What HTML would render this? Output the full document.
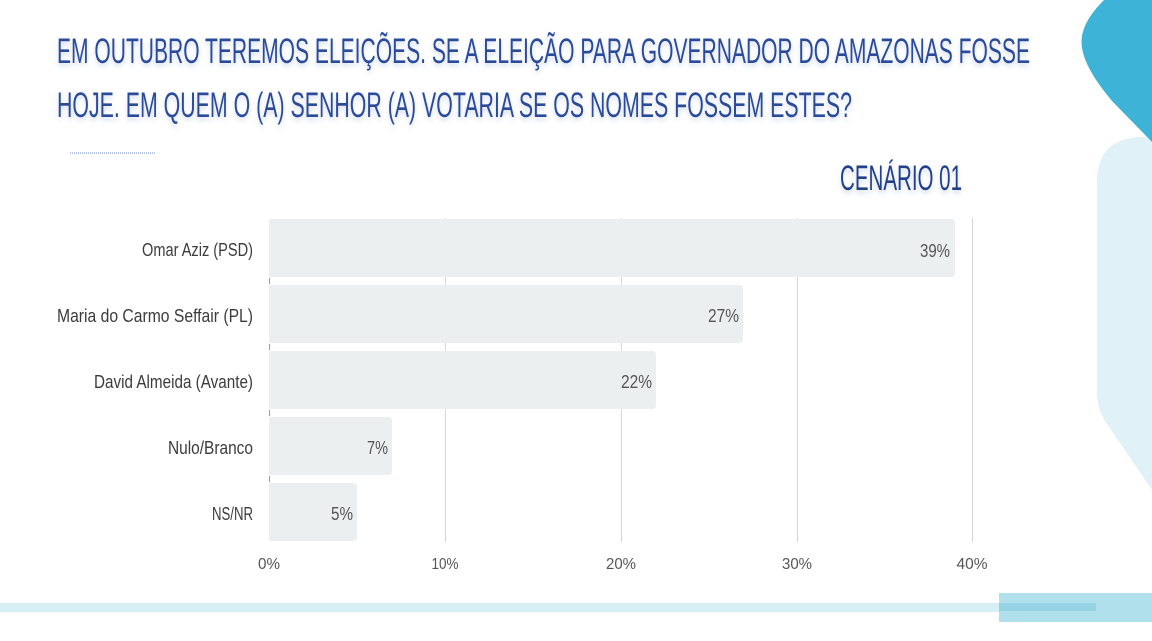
<!DOCTYPE html>
<html>
<head>
<meta charset="utf-8">
<style>
  html, body { margin:0; padding:0; background:#ffffff; }
  body { width:1152px; height:641px; overflow:hidden; position:relative; }
  svg { display:block; }
</style>
</head>
<body>
<svg width="1152" height="641" viewBox="0 0 1152 641" xmlns="http://www.w3.org/2000/svg">
  <defs>
    <filter id="ts" x="-5%" y="-30%" width="110%" height="170%">
      <feGaussianBlur in="SourceAlpha" stdDeviation="2.5"/>
      <feOffset dx="0" dy="3" result="b"/>
      <feFlood flood-color="#5a78b8" flood-opacity="0.28"/>
      <feComposite in2="b" operator="in"/>
      <feMerge><feMergeNode/><feMergeNode in="SourceGraphic"/></feMerge>
    </filter>
  </defs>
  <rect x="0" y="0" width="1152" height="641" fill="#ffffff"/>

  <!-- decorative shapes right -->
  <path d="M1152,137 L1140,137 Q1097,139 1097,182 L1097,392 Q1097,410 1107,424 L1152,490 Z" fill="#e1f1f8"/>
  <path d="M1104,0 C1090,14 1079,30 1082,48 C1085,66 1098,84 1112,101 L1152,142 L1152,0 Z" fill="#3db4d7"/>

  <!-- bottom bands -->
  <rect x="0" y="603" width="1152" height="9" fill="#d6eef6"/>
  <rect x="999" y="593" width="153" height="29" fill="#afe0ec"/>
  <rect x="999" y="603" width="97" height="8" fill="#95d3e4"/>

  <!-- title -->
  <g font-family="Liberation Sans, sans-serif" font-size="35" fill="#2c4b9c" filter="url(#ts)">
    <text x="57" y="63" textLength="973" lengthAdjust="spacingAndGlyphs">EM OUTUBRO TEREMOS ELEIÇÕES. SE A ELEIÇÃO PARA GOVERNADOR DO AMAZONAS FOSSE</text>
    <text x="57" y="117" textLength="795" lengthAdjust="spacingAndGlyphs">HOJE. EM QUEM O (A) SENHOR (A) VOTARIA SE OS NOMES FOSSEM ESTES?</text>
    <text x="840" y="190" textLength="122" lengthAdjust="spacingAndGlyphs" fill="#223f8c">CENÁRIO 01</text>
  </g>
  <line x1="70" y1="153" x2="155" y2="153" stroke="#6f8cc4" stroke-width="1" stroke-dasharray="1 1"/>

  <!-- gridlines -->
  <g stroke="#d6d6d6" stroke-width="1">
    <line x1="445.5" y1="218" x2="445.5" y2="542"/>
    <line x1="621.5" y1="218" x2="621.5" y2="542"/>
    <line x1="797.5" y1="218" x2="797.5" y2="542"/>
    <line x1="972.5" y1="218" x2="972.5" y2="542"/>
  </g>

  <!-- bars -->
  <g fill="#ebeff0">
    <path d="M269,219 H951 Q955,219 955,223 V273 Q955,277 951,277 H269 Z"/>
    <path d="M269,285 H739 Q743,285 743,289 V339 Q743,343 739,343 H269 Z"/>
    <path d="M269,351 H652 Q656,351 656,355 V405 Q656,409 652,409 H269 Z"/>
    <path d="M269,417 H388 Q392,417 392,421 V471 Q392,475 388,475 H269 Z"/>
    <path d="M269,483 H353 Q357,483 357,487 V537 Q357,541 353,541 H269 Z"/>
  </g>

  <!-- small ticks at 0 axis -->
  <g stroke="#9a9a9a" stroke-width="1">
    <line x1="269.5" y1="278" x2="269.5" y2="284"/>
    <line x1="269.5" y1="344" x2="269.5" y2="350"/>
    <line x1="269.5" y1="410" x2="269.5" y2="416"/>
    <line x1="269.5" y1="476" x2="269.5" y2="482"/>
  </g>

  <!-- category labels -->
  <g font-family="Liberation Sans, sans-serif" font-size="18" fill="#3c3c3c" text-anchor="end">
    <text x="253" y="256" textLength="111" lengthAdjust="spacingAndGlyphs">Omar Aziz (PSD)</text>
    <text x="253" y="322" textLength="196" lengthAdjust="spacingAndGlyphs">Maria do Carmo Seffair (PL)</text>
    <text x="253" y="388" textLength="159" lengthAdjust="spacingAndGlyphs">David Almeida (Avante)</text>
    <text x="253" y="454" textLength="85" lengthAdjust="spacingAndGlyphs">Nulo/Branco</text>
    <text x="253" y="520" textLength="41" lengthAdjust="spacingAndGlyphs">NS/NR</text>
  </g>

  <!-- value labels -->
  <g font-family="Liberation Sans, sans-serif" font-size="18" fill="#555555" text-anchor="end">
    <text x="950" y="257" textLength="30" lengthAdjust="spacingAndGlyphs">39%</text>
    <text x="739" y="322" textLength="31" lengthAdjust="spacingAndGlyphs">27%</text>
    <text x="652" y="388" textLength="31" lengthAdjust="spacingAndGlyphs">22%</text>
    <text x="388" y="454" textLength="21" lengthAdjust="spacingAndGlyphs">7%</text>
    <text x="353" y="520" textLength="22" lengthAdjust="spacingAndGlyphs">5%</text>
  </g>

  <!-- x tick labels -->
  <g font-family="Liberation Sans, sans-serif" font-size="16" fill="#555555" text-anchor="middle">
    <text x="269" y="569" textLength="22" lengthAdjust="spacingAndGlyphs">0%</text>
    <text x="445" y="569" textLength="27" lengthAdjust="spacingAndGlyphs">10%</text>
    <text x="621" y="569" textLength="30" lengthAdjust="spacingAndGlyphs">20%</text>
    <text x="797" y="569" textLength="30" lengthAdjust="spacingAndGlyphs">30%</text>
    <text x="972" y="569" textLength="31" lengthAdjust="spacingAndGlyphs">40%</text>
  </g>
</svg>
</body>
</html>
